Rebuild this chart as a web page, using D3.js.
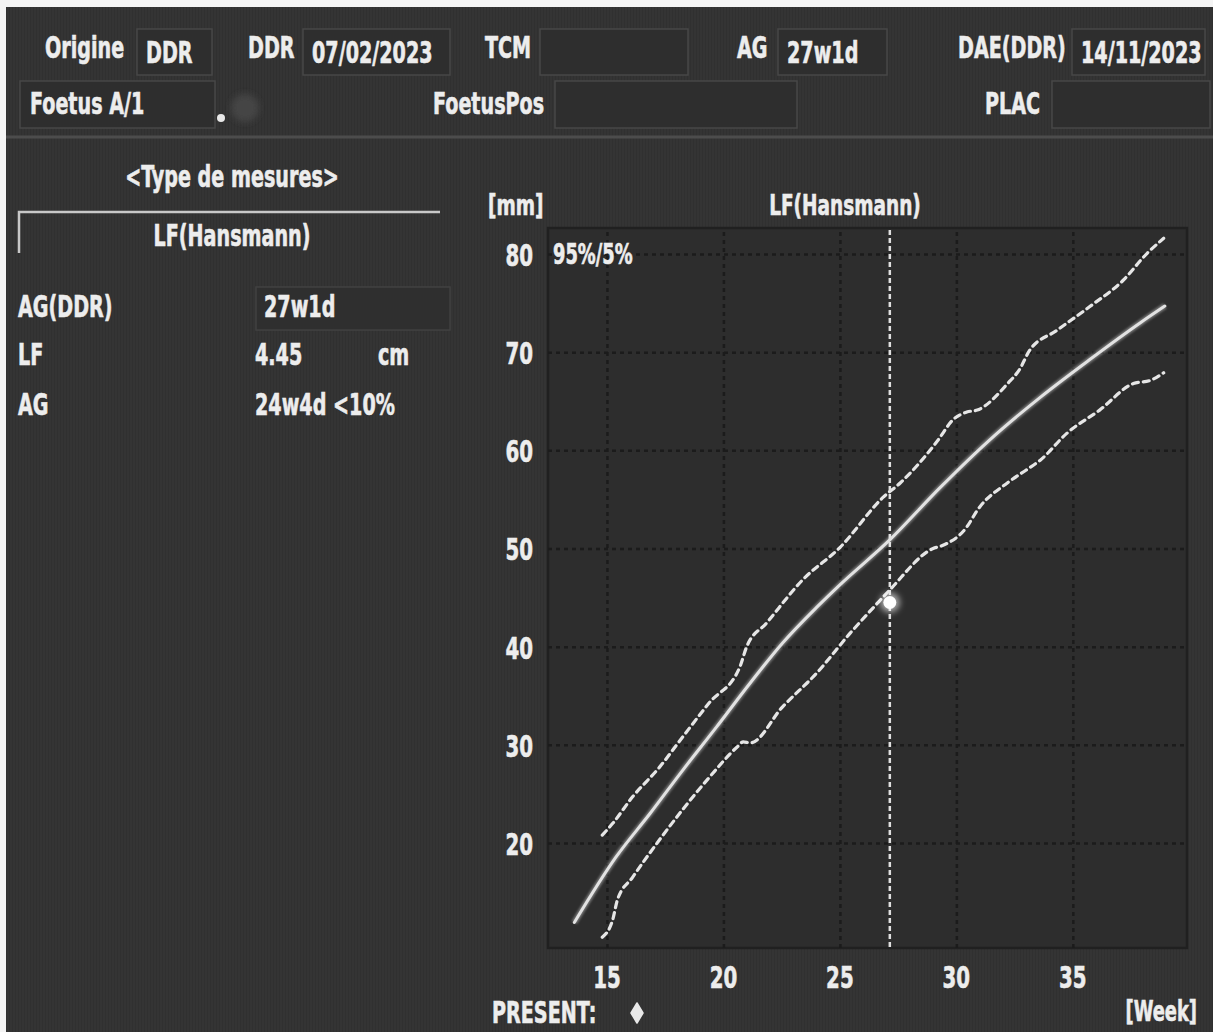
<!DOCTYPE html>
<html>
<head>
<meta charset="utf-8">
<script src="https://cdn.jsdelivr.net/npm/d3@7"></script>
<style>
  html, body { margin: 0; padding: 0; background: #f4f4f4; }
  svg { display: block; }
  text { font-family: "DejaVu Sans Condensed", "DejaVu Sans", sans-serif; font-weight: bold; fill: #ededed; stroke: #ededed; stroke-width: 0.6px; }
</style>
</head>
<body>
<script>
const medianWeeks = [13.6, 15.4, 16.85, 18.25, 19.7, 21.15, 22.55, 24.0, 25.0, 27.15, 29.3, 31.4, 33.6, 35.7, 37.9, 38.95];
const medianMm    = [11.9, 18.6, 23.0, 27.4, 31.8, 36.3, 40.4, 44.0, 46.3, 50.9, 56.2, 61.0, 65.4, 69.2, 73.0, 74.7];

const p95Weeks = [14.8, 15.25, 16.1, 17.25, 18.25, 19.4, 20.7, 21.0, 21.85, 23.4, 25.0, 26.85, 27.6, 29.2, 29.85, 30.45, 30.9, 32.2, 32.7, 33.15, 34.3, 35.7, 37.15, 38.2, 38.9];
const p95Mm    = [20.8, 22.0, 24.7, 27.7, 30.8, 34.3, 37.9, 40.0, 42.4, 46.8, 50.1, 55.2, 56.7, 61.0, 63.1, 63.9, 64.1, 66.8, 68.2, 70.2, 72.2, 74.6, 77.3, 80.1, 81.6];

const p5Weeks = [14.8, 15.25, 15.45, 16.1, 17.25, 18.25, 19.4, 20.6, 20.85, 21.15, 22.55, 24.0, 25.45, 26.6, 27.15, 29.0, 29.4, 30.45, 30.9, 32.2, 33.0, 33.6, 34.75, 36.15, 37.6, 38.3, 38.9];
const p5Mm    = [10.4, 12.2, 14.2, 16.5, 20.3, 23.4, 26.7, 29.8, 30.3, 30.2, 33.9, 37.3, 41.4, 44.4, 45.8, 50.0, 50.3, 52.2, 53.9, 56.7, 58.0, 59.0, 61.75, 64.1, 66.8, 67.1, 67.9];

const xTicks = [15, 20, 25, 30, 35];
const yTicks = [20, 30, 40, 50, 60, 70, 80];

const measureWeek = 27 + 1 / 7;   // 27w1d
const measureMm = 44.5;           // LF 4.45 cm

const headerRow1 = [
  { label: "Origine", lx: 45, value: "DDR", box: [137, 212] },
  { label: "DDR", lx: 248, value: "07/02/2023", box: [303, 450] },
  { label: "TCM", lx: 485, value: "", box: [540, 688] },
  { label: "AG", lx: 737, value: "27w1d", box: [778, 887] },
  { label: "DAE(DDR)", lx: 958, value: "14/11/2023", box: [1072, 1205] }
];
const headerRow2 = [
  { label: "Foetus A/1", lx: 30, box: [20, 215] },
  { label: "FoetusPos", lx: 433, box: [555, 797] },
  { label: "PLAC", lx: 985, box: [1052, 1210] }
];

const W = 1213, H = 1032;
const plot = { left: 548, right: 1187, top: 228, bottom: 948 };
const squeeze = 0.71; // the scanner font is narrow and tall

const svg = d3.select("body").append("svg")
  .attr("width", W)
  .attr("height", H);

// narrow text: a group holds the position, the text is squeezed inside it
function addText(parent, x, y, str, anchor, size) {
  const g = parent.append("g")
    .attr("transform", `translate(${x},${y}) scale(${squeeze},1)`);
  g.append("text")
    .attr("text-anchor", anchor || "start")
    .attr("font-size", size || 30)
    .text(str);
  return g;
}

const defs = svg.append("defs");
const scan = defs.append("pattern")
  .attr("id", "scan")
  .attr("width", 3).attr("height", 10)
  .attr("patternUnits", "userSpaceOnUse");
scan.append("rect").attr("width", 1).attr("height", 10).attr("fill", "#000").attr("opacity", 0.08);

const glow = defs.append("filter").attr("id", "glow")
  .attr("x", "-50%").attr("y", "-50%").attr("width", "200%").attr("height", "200%");
glow.append("feGaussianBlur").attr("stdDeviation", 1.2);

const dotGlow = defs.append("filter").attr("id", "dotglow")
  .attr("x", "-100%").attr("y", "-100%").attr("width", "300%").attr("height", "300%");
dotGlow.append("feGaussianBlur").attr("stdDeviation", 3);

// screen background
svg.append("rect").attr("x", 6).attr("y", 7).attr("width", W - 6).attr("height", H - 7).attr("fill", "#343434");
svg.append("rect").attr("x", 6).attr("y", 7).attr("width", W - 6).attr("height", H - 7).attr("fill", "url(#scan)");

// --- header ---
const header = svg.append("g").attr("class", "header");

header.selectAll("rect.box1")
  .data(headerRow1)
  .join("rect")
  .attr("class", "box1")
  .attr("x", d => d.box[0]).attr("y", 29)
  .attr("width", d => d.box[1] - d.box[0]).attr("height", 46)
  .attr("fill", "#2e2e2e").attr("stroke", "#474747").attr("stroke-width", 1.5);

header.selectAll("rect.box2")
  .data(headerRow2)
  .join("rect")
  .attr("class", "box2")
  .attr("x", d => d.box[0]).attr("y", 81)
  .attr("width", d => d.box[1] - d.box[0]).attr("height", 47)
  .attr("fill", "#2e2e2e").attr("stroke", "#474747").attr("stroke-width", 1.5);

headerRow1.forEach(d => {
  addText(header, d.lx, 58, d.label);
  if (d.value) addText(header, d.box[0] + 9, 63, d.value);
});
headerRow2.forEach(d => addText(header, d.lx, 114, d.label));

header.append("circle").attr("cx", 221).attr("cy", 118).attr("r", 4).attr("fill", "#e8e8e8");
header.append("circle").attr("cx", 245).attr("cy", 108).attr("r", 14).attr("fill", "#444").attr("filter", "url(#dotglow)");

svg.append("line")
  .attr("x1", 6).attr("x2", W).attr("y1", 137).attr("y2", 137)
  .attr("stroke", "#4c4c4c").attr("stroke-width", 3);

// --- left panel ---
const left = svg.append("g").attr("class", "left-panel");

addText(left, 232, 187, "<Type de mesures>", "middle");
left.append("path")
  .attr("d", "M19,253 V212 H440")
  .attr("fill", "none").attr("stroke", "#c8c8c8").attr("stroke-width", 2.5);
addText(left, 232, 246, "LF(Hansmann)", "middle");

left.append("rect").attr("x", 256).attr("y", 287).attr("width", 194).attr("height", 43)
  .attr("fill", "#2f2f2f").attr("stroke", "#414141").attr("stroke-width", 1.5);

const rows = [
  { k: "AG(DDR)", v: "27w1d", y: 317, vx: 264 },
  { k: "LF", v: "4.45", y: 365, vx: 255 },
  { k: "AG", v: "24w4d <10%", y: 415, vx: 255 }
];
rows.forEach(d => {
  addText(left, 18, d.y, d.k);
  addText(left, d.vx, d.y, d.v);
});
addText(left, 378, 365, "cm");

// --- chart ---
const x = d3.scaleLinear().domain([12.47, 39.9]).range([plot.left, plot.right]);
const y = d3.scaleLinear().domain([9.3, 82.65]).range([plot.bottom, plot.top]);

const chart = svg.append("g").attr("class", "chart");

chart.append("rect")
  .attr("x", plot.left).attr("y", plot.top)
  .attr("width", plot.right - plot.left).attr("height", plot.bottom - plot.top)
  .attr("fill", "#2d2d2d").attr("stroke", "#202020").attr("stroke-width", 2.5);

// grid
chart.append("g")
  .attr("transform", `translate(0,${plot.bottom})`)
  .call(d3.axisBottom(x).tickValues(xTicks).tickSize(-(plot.bottom - plot.top)).tickFormat(""))
  .call(g => g.select(".domain").remove())
  .call(g => g.selectAll("line").attr("stroke", "#1b1b1b").attr("stroke-width", 2.5).attr("stroke-dasharray", "4,4"));

chart.append("g")
  .attr("transform", `translate(${plot.left},0)`)
  .call(d3.axisLeft(y).tickValues(yTicks).tickSize(-(plot.right - plot.left)).tickFormat(""))
  .call(g => g.select(".domain").remove())
  .call(g => g.selectAll("line").attr("stroke", "#1b1b1b").attr("stroke-width", 2.5).attr("stroke-dasharray", "4,4"));

// tick labels
yTicks.forEach(d => addText(chart, 533, y(d) + 12, d, "end", 31));
xTicks.forEach(d => addText(chart, x(d), 988, d, "middle", 31));

addText(chart, 488, 215, "[mm]", "start", 29);
addText(chart, 845, 215, "LF(Hansmann)", "middle", 29);
addText(chart, 553, 264, "95%/5%", "start", 28);
addText(chart, 492, 1023, "PRESENT:", "start", 30);
addText(chart, 1197, 1021, "[Week]", "end", 28);
chart.append("path").attr("d", "M637,1003 L643,1013 L637,1023 L631,1013 Z")
  .attr("fill", "#e8e8e8").attr("stroke", "#e8e8e8").attr("stroke-width", 1.5).attr("stroke-linejoin", "round");

// curves
const line = d3.line()
  .x(d => x(d[0]))
  .y(d => y(d[1]))
  .curve(d3.curveMonotoneX);

const median = d3.zip(medianWeeks, medianMm);
const p95 = d3.zip(p95Weeks, p95Mm);
const p5 = d3.zip(p5Weeks, p5Mm);

const curves = chart.append("g").attr("class", "curves");

curves.append("path").datum(median)
  .attr("d", line).attr("fill", "none")
  .attr("stroke", "#ffffff").attr("stroke-opacity", 0.35).attr("stroke-width", 6)
  .attr("filter", "url(#glow)");
curves.append("path").datum(median)
  .attr("d", line).attr("fill", "none")
  .attr("stroke", "#e2e2e2").attr("stroke-width", 3).attr("stroke-linecap", "round");

curves.selectAll("path.bound")
  .data([p95, p5])
  .join("path")
  .attr("class", "bound")
  .attr("d", line).attr("fill", "none")
  .attr("stroke", "#e6e6e6").attr("stroke-width", 3.2)
  .attr("stroke-dasharray", "6,5").attr("stroke-linecap", "round");

// current gestational age marker line
chart.append("line")
  .attr("x1", x(measureWeek)).attr("x2", x(measureWeek))
  .attr("y1", plot.top + 2).attr("y2", plot.bottom)
  .attr("stroke", "#e0e0e0").attr("stroke-width", 2.5).attr("stroke-dasharray", "5,3");

// measured point
chart.append("circle")
  .attr("cx", x(measureWeek)).attr("cy", y(measureMm)).attr("r", 10)
  .attr("fill", "#ffffff").attr("opacity", 0.6).attr("filter", "url(#dotglow)");
chart.append("circle")
  .attr("cx", x(measureWeek)).attr("cy", y(measureMm)).attr("r", 6.5)
  .attr("fill", "#ffffff");
</script>
</body>
</html>
